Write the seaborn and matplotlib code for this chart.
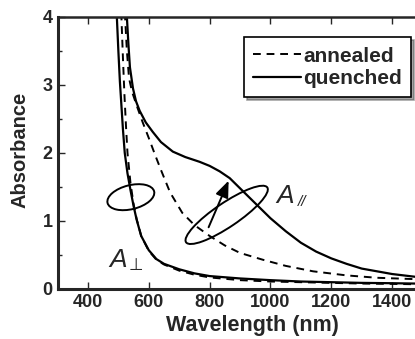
import numpy as np
import pandas as pd
import matplotlib
matplotlib.use("Agg")
import matplotlib.pyplot as plt
import matplotlib.transforms as mtransforms
from matplotlib.patches import Ellipse
import seaborn as sns

# absorbance curves
# perpendicular polarisation, quenched (solid)
wl_perp_q = [490, 495, 500, 505, 510, 515, 521, 530, 540, 550, 560, 575, 600, 625, 650,
             700, 750, 800, 900, 1000, 1100, 1200, 1300, 1400, 1475]
abs_perp_q = [4.3, 4.0, 3.5, 3.05, 2.7, 2.35, 2.0, 1.7, 1.45, 1.22, 1.02, 0.78, 0.57, 0.44, 0.37,
              0.29, 0.23, 0.19, 0.155, 0.13, 0.11, 0.10, 0.09, 0.085, 0.08]
# perpendicular polarisation, annealed (dashed)
wl_perp_a = [505, 510, 515, 520, 525, 530, 540, 550, 560, 575, 600, 625, 650,
             700, 750, 800, 900, 1000, 1100, 1200, 1300, 1400, 1475]
abs_perp_a = [4.3, 4.0, 3.4, 2.85, 2.4, 2.0, 1.55, 1.25, 1.03, 0.78, 0.56, 0.43, 0.36,
              0.27, 0.21, 0.17, 0.13, 0.11, 0.10, 0.09, 0.08, 0.075, 0.07]
# parallel polarisation, annealed (dashed)
wl_par_a = [518, 522, 528, 535, 545, 560, 580, 600, 620, 640, 670, 710, 750, 800, 850,
            900, 975, 1050, 1140, 1250, 1350, 1475]
abs_par_a = [4.3, 4.0, 3.5, 3.1, 2.9, 2.7, 2.45, 2.22, 1.98, 1.75, 1.42, 1.12, 0.94, 0.78, 0.64,
             0.53, 0.43, 0.34, 0.26, 0.20, 0.165, 0.145]
# parallel polarisation, quenched (solid)
wl_par_q = [524, 528, 533, 538, 548, 558, 570, 590, 613, 640, 679, 720, 767, 800, 833, 866,
            900, 950, 1000, 1050, 1100, 1150, 1200, 1250, 1300, 1350, 1400, 1475]
abs_par_q = [4.3, 4.0, 3.6, 3.26, 2.95, 2.76, 2.62, 2.45, 2.31, 2.16, 2.02, 1.94, 1.87, 1.81, 1.73, 1.63,
             1.48, 1.26, 1.04, 0.85, 0.68, 0.55, 0.45, 0.37, 0.30, 0.26, 0.22, 0.18]

x_ticks = [400, 600, 800, 1000, 1200, 1400]
y_ticks = [0, 1, 2, 3, 4]

sns.set_style("ticks")
plt.rcParams['font.family'] = ['Liberation Sans', 'DejaVu Sans']
plt.rcParams['font.weight'] = 'bold'

fig = plt.figure(figsize=(4.15, 3.39), dpi=100)
ax = fig.add_axes([0.1386, 0.1475, 0.8614, 0.8025])

sns.lineplot(x=wl_perp_q, y=abs_perp_q, ax=ax, color='black', lw=1.6, sort=False)
sns.lineplot(x=wl_par_q, y=abs_par_q, ax=ax, color='black', lw=1.6, sort=False, label='quenched')
sns.lineplot(x=wl_perp_a, y=abs_perp_a, ax=ax, color='black', lw=1.4, sort=False,
             linestyle=(0, (4, 3)))
sns.lineplot(x=wl_par_a, y=abs_par_a, ax=ax, color='black', lw=1.4, sort=False,
             linestyle=(0, (4, 3)), label='annealed')

ax.set_xlim(300, 1475)
ax.set_ylim(0, 4)
ax.set_xticks(x_ticks)
ax.set_yticks(y_ticks)
ax.set_yticks([0.5, 1.5, 2.5, 3.5], minor=True)
ax.tick_params(axis='both', which='both', direction='in', top=True, right=False,
               labelsize=13, width=1.0)
ax.tick_params(which='major', length=5)
ax.tick_params(which='minor', length=3)
for lab in ax.get_xticklabels() + ax.get_yticklabels():
    lab.set_fontweight('bold')
ax.spines['right'].set_visible(False)
ax.spines['left'].set_linewidth(2.2)
ax.spines['bottom'].set_linewidth(2.2)
ax.spines['top'].set_linewidth(1.8)
ax.set_xlabel('Wavelength (nm)', fontsize=15.5, fontweight='bold')
ax.set_ylabel('Absorbance', fontsize=14.5, fontweight='bold')
ax.xaxis.set_label_coords(0.544, -0.095)
ax.yaxis.set_label_coords(-0.079, 0.51)

# legend: dashed first
h, l = ax.get_legend_handles_labels()
order = [l.index('annealed'), l.index('quenched')]
leg = ax.legend([h[i] for i in order], [l[i] for i in order], loc='upper right',
                bbox_to_anchor=(0.99, 0.925), frameon=True, fancybox=False, shadow=True,
                edgecolor='black', fontsize=15, handlelength=2.3, handletextpad=0.1,
                borderpad=0.45, labelspacing=0.15, borderaxespad=0)
leg.get_frame().set_linewidth(1.2)
for t in leg.get_texts():
    t.set_fontweight('bold')

# ellipses marking the two polarisations
fig.canvas.draw()
def loop(cx, cy, w, h, ang):
    px, py = ax.transData.transform((cx, cy))
    e = Ellipse((px, py), w, h, angle=ang, transform=mtransforms.IdentityTransform(),
                fill=False, ec='black', lw=1.4)
    fig.add_artist(e)

loop(541, 1.35, 48, 24, 14)
loop(856, 1.09, 98, 24, 34)

ax.annotate('', xy=(866, 1.63), xytext=(793, 0.87),
            arrowprops=dict(arrowstyle='-|>,head_length=1.0,head_width=0.4',
                            color='black', lw=1.4))

ax.text(470, 0.33, 'A', fontsize=19, style='italic', fontweight='normal', va='baseline')
ax.text(535, 0.28, '⊥', fontsize=12, fontweight='normal', va='baseline',
        family=['DejaVu Sans'])
ax.text(1020, 1.27, 'A', fontsize=19, style='italic', fontweight='normal', va='baseline')
ax.text(1090, 1.22, '//', fontsize=11, style='italic', fontweight='normal', va='baseline')

fig.savefig('out.png', dpi=100)
